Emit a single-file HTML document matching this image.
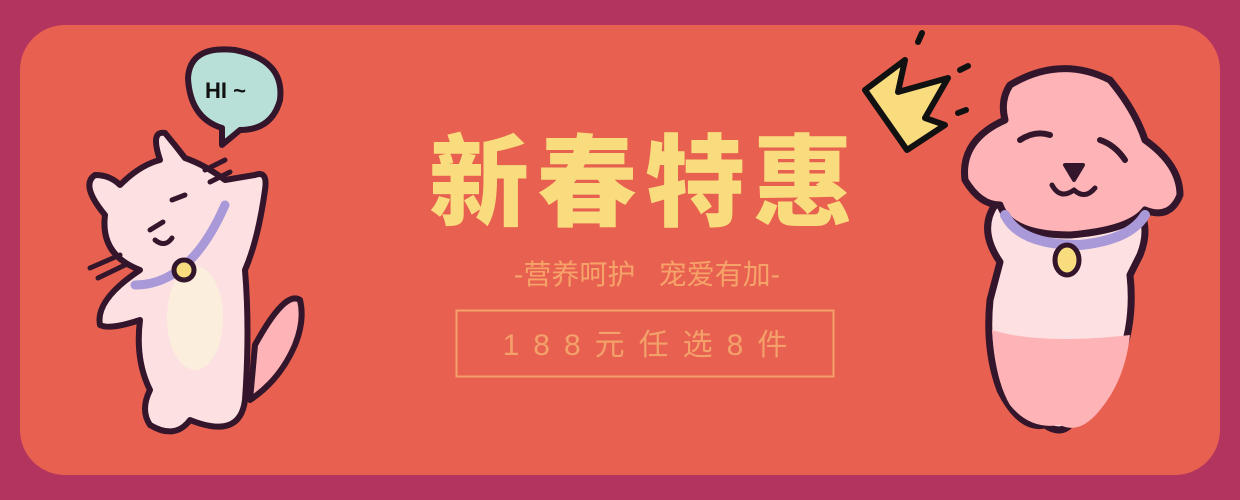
<!DOCTYPE html>
<html><head><meta charset="utf-8"><style>
html,body{margin:0;padding:0;width:1240px;height:500px;overflow:hidden;background:#b3345f}
svg{display:block}
text{font-family:"Liberation Sans","Noto Sans CJK SC",sans-serif}
</style></head><body>
<svg width="1240" height="500" viewBox="0 0 1240 500">
<rect x="0" y="0" width="1240" height="500" fill="#b3345f"/>
<rect x="20" y="25" width="1200" height="450" rx="45" fill="#e8604f"/>

<text x="645" y="218" text-anchor="middle" font-size="100" font-weight="900" fill="#f9dc7d" font-family="'Noto Sans CJK SC',sans-serif" letter-spacing="8">新春特惠</text>
<text x="647" y="284" text-anchor="middle" font-size="28" fill="#f6a36a">-营养呵护&#160;&#160;&#160;宠爱有加-</text>
<rect x="456.5" y="310.5" width="377" height="66" fill="none" stroke="#f3a06a" stroke-width="2"/>
<text x="652" y="355" text-anchor="middle" font-size="30" fill="#f3a06a" letter-spacing="14">188元任选8件</text>

<!-- cat -->
<g stroke="#33162b" stroke-width="6" stroke-linecap="round" stroke-linejoin="round">
<path d="M188 78 Q190 45 235 50 Q285 60 280 100 Q272 130 240 130 L222 145 L222 128 Q190 118 188 78 Z" fill="#b9e0d8"/>
<text x="205" y="98" font-size="22" font-weight="bold" fill="#111" stroke="none">HI ~</text>
<path d="M255 175 Q268 170 265 190 Q258 240 245 270 Q250 330 245 400 Q240 440 190 420 Q175 440 150 425 Q140 410 150 390 Q135 360 140 320 Q110 330 100 325 Q95 300 140 270 Q100 255 105 215 Q80 185 95 175 Q110 175 120 185 Q140 165 160 160 Q150 130 165 133 Q175 145 185 158 Q205 165 225 180 Z" fill="#fde1e2"/>
<path d="M255 345 Q285 290 300 300 Q305 320 295 345 Q280 380 250 400 Z" fill="#feb4b6"/>
<ellipse cx="195" cy="318" rx="28" ry="52" fill="#fbeedd" stroke="none"/>
<path d="M135 285 Q190 285 225 205" fill="none" stroke="#a999d8" stroke-width="9"/>
<circle cx="184" cy="270" r="10" fill="#f9dc7d" stroke-width="5"/>
<path d="M150 230 L163 222 M172 200 L185 195 M155 240 Q165 248 172 238" fill="none" stroke-width="5"/>
<path d="M90 268 L120 255 M98 278 L125 265 M205 170 L225 160 M210 182 L230 172" fill="none" stroke-width="5"/>
</g>

<!-- crown -->
<g stroke="#111" stroke-width="6" stroke-linejoin="round">
<path d="M865 90 L905 60 L898 92 L948 78 L925 118 L945 125 L907 150 Z" fill="#f9dc7d"/>
<path d="M918 42 L922 33 M960 70 L968 66 M958 113 L966 110" fill="none" stroke-linecap="round"/>
</g>

<!-- dog -->
<g stroke="#33162b" stroke-width="7" stroke-linejoin="round" stroke-linecap="round">
<path d="M995 205 Q978 230 1000 262 L990 300 Q985 350 1000 390 Q1020 430 1045 425 Q1060 435 1070 425 Q1100 400 1120 360 Q1135 320 1130 275 L1140 255 Q1150 230 1140 210 Z" fill="#fde1e2"/>
<path d="M992 330 Q1040 345 1130 335 Q1125 380 1100 410 Q1080 435 1060 425 Q1030 430 1010 405 Q995 380 992 330 Z" fill="#feb4b6" stroke="none"/>
<path d="M1010 85 Q1060 55 1110 80 Q1135 110 1145 140 Q1180 165 1180 195 Q1170 220 1145 210 Q1130 230 1070 235 Q1010 235 1000 205 Q980 205 965 180 Q960 140 1005 120 Q1000 100 1010 85 Z" fill="#feb4b6"/>
<path d="M1005 215 Q1020 245 1080 245 Q1130 240 1145 215" fill="none" stroke="#a999d8" stroke-width="10"/>
<ellipse cx="1067" cy="260" rx="12" ry="15" fill="#f9dc7d" stroke-width="5"/>
<path d="M1020 140 Q1035 130 1050 135 M1100 140 Q1115 145 1125 160" fill="none" stroke-width="6"/>
<path d="M1065 165 L1083 165 L1074 180 Z" fill="#33162b" stroke-width="4"/>
<path d="M1052 185 Q1060 200 1074 190 Q1085 200 1095 188" fill="none" stroke-width="5"/>
</g>
</svg>
</body></html>
